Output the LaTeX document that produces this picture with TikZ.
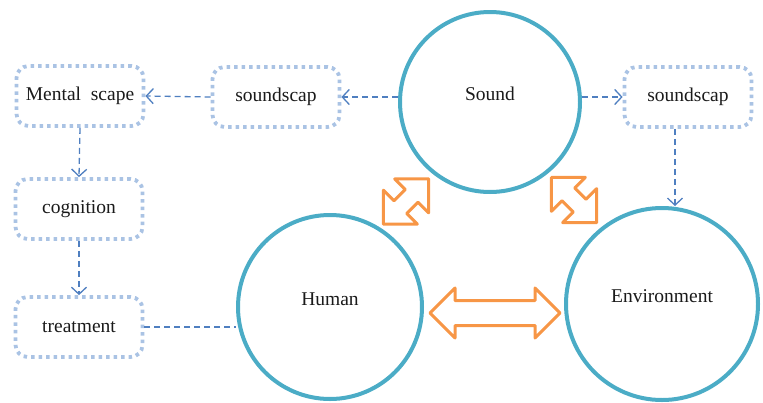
\documentclass[tikz,border=0pt]{standalone}
\usepackage{fontspec}
\setmainfont{Liberation Serif}
\usetikzlibrary{arrows.meta}
\definecolor{tealc}{HTML}{4BACC6}
\definecolor{orangec}{HTML}{F79646}
\definecolor{bluec}{HTML}{4F7FC0}
\definecolor{boxc}{HTML}{AAC3E4}
\definecolor{txt}{HTML}{1A1A1A}
\begin{document}
\begin{tikzpicture}[x=1pt,y=-1pt,
  lbl/.style={font=\fontsize{19.5}{22}\selectfont, text=txt},
  dbox/.style={draw=boxc, line width=3.8pt, dash pattern=on 3.5pt off 4pt,
    rounded corners=12pt, minimum width=127pt, minimum height=60pt, inner sep=0pt, lbl},
  circ/.style={circle, draw=tealc, line width=4pt, inner sep=0pt},
  darr/.style={draw=bluec, line width=1.3pt, dash pattern=on 6pt off 4pt,
    -{Straight Barb[length=7pt,width=15pt,line width=1.3pt]}},
  dline/.style={draw=bluec, line width=1.3pt, dash pattern=on 6pt off 4pt},
  oarr/.style={draw=orangec, line width=3pt, line join=round}
]
\useasboundingbox (0,0) rectangle (763,402);

% boxes
\node[dbox] (mental) at (80,96) {Mental\ \ scape};
\node[dbox] (sc1) at (276,97) {soundscap};
\node[dbox] (sc2) at (688,97) {soundscap};
\node[dbox] (cog) at (79,209) {cognition};
\node[dbox] (treat) at (79,327) {treatment};

% circles
\node[circ, minimum size=180pt, label={[lbl,yshift=8pt]center:Sound}] (sound) at (490,102) {};
\node[circ, minimum size=184pt, label={[lbl,yshift=8pt]center:Human}] (human) at (330,307) {};
\node[circ, minimum size=192pt, label={[lbl,yshift=8pt]center:Environment}] (env) at (662,304) {};

% dashed connectors
\draw[darr] (sound.west |- sc1.east) -- (sc1.east);
\draw[darr] (sc1.west) -- (mental.east);
\draw[darr] (sound.east |- sc2.west) -- (sc2.west);
\coordinate (a) at ([xshift=-13pt]sc2.south);
\draw[darr] (a) -- (a |- env.north);
\draw[darr] (mental.south) -- (cog.north);
\draw[darr] (cog.south) -- (treat.north);
\draw[dline] (treat.east) -- (treat.east -| human.west);

% orange double arrows
\begin{scope}[shift={(495,313)}]
\draw[oarr] (-65pt,0pt) -- (-40pt,-25pt) -- (-40pt,-12.5pt) -- (40pt,-12.5pt) -- (40pt,-25pt)
  -- (65pt,0pt) -- (40pt,25pt) -- (40pt,12.5pt) -- (-40pt,12.5pt) -- (-40pt,25pt) -- cycle;
\end{scope}
\begin{scope}[shift={(406,201.5)}, rotate=45]
\draw[oarr] (-32pt,0pt) -- (-8pt,-24pt) -- (-8pt,-9pt) -- (8pt,-9pt) -- (8pt,-24pt)
  -- (32pt,0pt) -- (8pt,24pt) -- (8pt,9pt) -- (-8pt,9pt) -- (-8pt,24pt) -- cycle;
\end{scope}
\begin{scope}[shift={(574,200)}, rotate=-45]
\draw[oarr] (-32pt,0pt) -- (-8pt,-24pt) -- (-8pt,-9pt) -- (8pt,-9pt) -- (8pt,-24pt)
  -- (32pt,0pt) -- (8pt,24pt) -- (8pt,9pt) -- (-8pt,9pt) -- (-8pt,24pt) -- cycle;
\end{scope}
\end{tikzpicture}
\end{document}
